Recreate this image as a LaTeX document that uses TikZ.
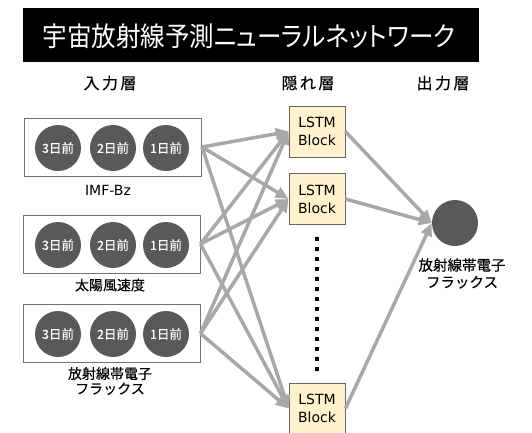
\documentclass[tikz,border=0pt]{standalone}
\usepackage{fontspec}
\usepackage{graphicx}
\setmainfont{DejaVu Sans}
\newfontfamily\jp{Noto Sans CJK JP}
\newfontfamily\jpp[RawFeature=+palt]{Noto Sans CJK JP}
\usetikzlibrary{arrows.meta}
\definecolor{arr}{HTML}{A9A7A7}
\definecolor{dark}{HTML}{595959}
\definecolor{lstm}{HTML}{FFF2CC}
\begin{document}
\begin{tikzpicture}[x=1pt,y=-1pt,
  inbox/.style={draw=black!55,line width=0.9pt,minimum width=177pt,minimum height=58pt,inner sep=0},
  dot/.style={circle,fill=dark,minimum size=46pt,inner sep=0,text=white,font=\jp\fontsize{12.5}{14}\selectfont\addfontfeature{FakeBold=0.5}},
  lstmbox/.style={draw=black!60,line width=0.8pt,fill=lstm,minimum width=56pt,minimum height=51pt,inner sep=0,align=center,font=\fontsize{14}{18}\selectfont},
  lbl/.style={font=\jp\fontsize{14}{15}\selectfont\addfontfeature{FakeBold=0.3},align=center},
  layer/.style={font=\jp\fontsize{16}{18}\selectfont\addfontfeature{LetterSpace=15,FakeBold=0.5}},
  con/.style={draw=arr,line width=3.5pt,-{Triangle[length=13pt,width=11pt]}}
]
\useasboundingbox (0,0) rectangle (532,432);
\node[fill=black,minimum width=456pt,minimum height=54pt,inner sep=0] (bar) at (251,35) {};
\node[text=white,inner sep=0] (title) at (249,36.5) {\resizebox{413pt}{\height}{\jpp\fontsize{27}{30}\selectfont 宇宙放射線予測ニューラルネットワーク}};
\node[layer] (l1) at (110,83) {入力層};
\node[layer] (l2) at (308,83) {隠れ層};
\node[layer] (l3) at (443,83) {出力層};
% input boxes
\node[inbox] (in1) at (113,147) {};
\node[inbox] (in2) at (111.5,244) {};
\node[inbox] (in3) at (111.5,333.5) {};
\foreach \b/\y in {a/148,b/245,c/334}{
  \node[dot] (\b3) at (58,\y) {3日前};
  \node[dot] (\b2) at (113,\y) {2日前};
  \node[dot] (\b1) at (166,\y) {1日前};
}
\node[font=\fontsize{14}{16}\selectfont] (t1) at (108,190) {IMF-Bz};
\node[lbl] (t2) at (110,285) {太陽風速度};
\node[lbl] (t3) at (110,381) {放射線帯電子\\フラックス};
% hidden
\node[lstmbox] (h1) at (317,131.5) {LSTM\\Block};
\node[lstmbox] (h2) at (317,199) {LSTM\\Block};
\node[lstmbox] (h3) at (317,408.5) {LSTM\\Block};
\coordinate (d1) at (317,237);
\coordinate (d2) at (317,374);
\draw[line width=4pt,dash pattern=on 4pt off 6pt] (d1) -- (d2);
% output
\node[circle,fill=dark,minimum size=46pt,inner sep=0] (o) at (455,223) {};
\node[lbl,font=\jp\fontsize{14.5}{17}\selectfont\addfontfeature{FakeBold=0.3}] (t4) at (462,273.5) {放射線帯電子\\フラックス};
% connectors
\foreach \i in {in1,in2,in3}{
  \foreach \h in {h1,h2,h3}{
    \draw[con] (\i.east) -- (\h.west);
  }
}
\foreach \h in {h1,h2,h3}{
  \draw[con] (\h.east) -- (o.west);
}
\end{tikzpicture}
\end{document}
